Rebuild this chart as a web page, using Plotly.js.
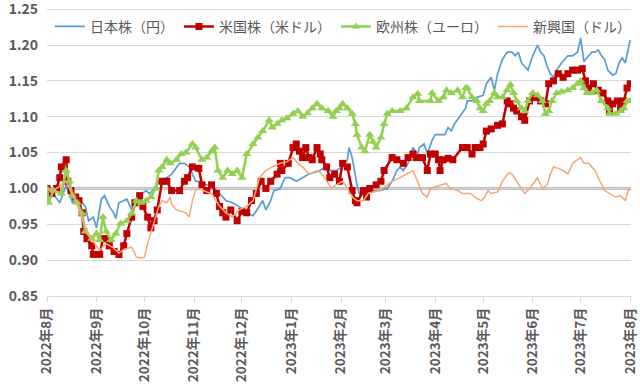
<!DOCTYPE html>
<html><head><meta charset="utf-8">
<script src="https://cdn.plot.ly/plotly-3.0.1.min.js"></script>
<style>html,body{margin:0;padding:0;background:#fff}#chart{width:640px;height:386px}</style>
</head><body><div id="chart"></div>
<script>
const seriesNames = ["日本株（円）", "米国株（米ドル）", "欧州株（ユーロ）", "新興国（ドル）"];

const jpDates = ["2022-08-01","2022-08-04","2022-08-09","2022-08-13","2022-08-17","2022-08-21","2022-08-25","2022-08-27","2022-08-30","2022-09-01","2022-09-04","2022-09-06","2022-09-09","2022-09-12","2022-09-13","2022-09-15","2022-09-20","2022-09-23","2022-09-26","2022-09-28","2022-10-02","2022-10-04","2022-10-08","2022-10-10","2022-10-15","2022-10-18","2022-10-23","2022-10-26","2022-10-29","2022-11-02","2022-11-04","2022-11-09","2022-11-12","2022-11-17","2022-11-21","2022-11-25","2022-11-29","2022-12-04","2022-12-08","2022-12-11","2022-12-14","2022-12-16","2022-12-19","2022-12-21","2022-12-25","2022-12-28","2022-12-31","2023-01-04","2023-01-08","2023-01-12","2023-01-19","2023-01-22","2023-01-25","2023-01-29","2023-02-02","2023-02-05","2023-02-06","2023-02-08","2023-02-11","2023-02-13","2023-02-16","2023-02-21","2023-02-25","2023-03-02","2023-03-05","2023-03-08","2023-03-10","2023-03-12","2023-03-15","2023-03-18","2023-03-21","2023-03-22","2023-03-25","2023-03-27","2023-03-30","2023-04-01","2023-04-04","2023-04-07","2023-04-09","2023-04-11","2023-04-13","2023-04-16","2023-04-20","2023-04-21","2023-04-24","2023-04-27","2023-05-01","2023-05-03","2023-05-06","2023-05-08","2023-05-10","2023-05-13","2023-05-16","2023-05-19","2023-05-21","2023-05-23","2023-05-25","2023-05-27","2023-05-29","2023-06-01","2023-06-04","2023-06-06","2023-06-08","2023-06-10","2023-06-12","2023-06-14","2023-06-16","2023-06-19","2023-06-21","2023-06-23","2023-06-26","2023-06-29","2023-07-01","2023-07-03","2023-07-06","2023-07-08","2023-07-10","2023-07-12","2023-07-14","2023-07-16","2023-07-18","2023-07-21","2023-07-23","2023-07-25","2023-07-27","2023-07-29","2023-07-31","2023-08-01"];
const jpValues = [1.000,0.995,0.980,1.005,0.980,0.985,0.975,0.955,0.960,0.945,0.985,0.990,0.975,0.965,0.958,0.980,0.985,0.970,0.985,0.990,0.997,0.993,1.000,1.010,1.015,1.020,1.035,1.035,1.030,1.010,1.010,1.005,1.005,0.993,0.983,0.980,0.975,0.966,0.962,0.972,0.983,0.970,0.983,0.997,1.000,1.015,1.015,1.010,1.015,1.020,1.025,1.030,1.025,1.025,1.030,1.040,1.057,1.043,1.005,0.988,0.997,0.997,0.997,1.000,1.010,1.025,1.030,1.025,1.035,1.057,1.048,1.057,1.062,1.048,1.067,1.075,1.075,1.075,1.085,1.080,1.090,1.100,1.112,1.122,1.122,1.127,1.130,1.146,1.155,1.137,1.160,1.180,1.190,1.190,1.185,1.190,1.175,1.170,1.165,1.185,1.200,1.190,1.185,1.170,1.160,1.155,1.165,1.175,1.180,1.185,1.185,1.190,1.210,1.177,1.185,1.190,1.190,1.193,1.185,1.180,1.165,1.158,1.160,1.175,1.182,1.175,1.197,1.207];

const usDates = ["2022-08-01","2022-08-04","2022-08-07","2022-08-09","2022-08-10","2022-08-13","2022-08-14","2022-08-16","2022-08-19","2022-08-21","2022-08-23","2022-08-24","2022-08-26","2022-08-29","2022-08-30","2022-09-03","2022-09-05","2022-09-07","2022-09-09","2022-09-12","2022-09-15","2022-09-18","2022-09-20","2022-09-23","2022-09-25","2022-09-28","2022-09-30","2022-10-03","2022-10-05","2022-10-07","2022-10-09","2022-10-12","2022-10-15","2022-10-18","2022-10-23","2022-10-26","2022-10-28","2022-10-31","2022-11-04","2022-11-06","2022-11-09","2022-11-12","2022-11-15","2022-11-17","2022-11-19","2022-11-21","2022-11-24","2022-11-28","2022-12-01","2022-12-04","2022-12-07","2022-12-10","2022-12-13","2022-12-16","2022-12-19","2022-12-23","2022-12-25","2022-12-26","2022-12-30","2023-01-02","2023-01-04","2023-01-06","2023-01-08","2023-01-10","2023-01-12","2023-01-14","2023-01-17","2023-01-19","2023-01-20","2023-01-23","2023-01-25","2023-01-28","2023-01-31","2023-02-02","2023-02-05","2023-02-08","2023-02-10","2023-02-11","2023-02-15","2023-02-17","2023-02-19","2023-02-23","2023-02-26","2023-02-28","2023-03-05","2023-03-08","2023-03-12","2023-03-15","2023-03-18","2023-03-20","2023-03-24","2023-03-27","2023-03-29","2023-04-01","2023-04-03","2023-04-04","2023-04-06","2023-04-09","2023-04-12","2023-04-18","2023-04-21","2023-04-24","2023-04-26","2023-04-29","2023-05-01","2023-05-03","2023-05-06","2023-05-10","2023-05-13","2023-05-16","2023-05-18","2023-05-20","2023-05-22","2023-05-25","2023-05-27","2023-05-30","2023-06-02","2023-06-06","2023-06-09","2023-06-11","2023-06-14","2023-06-17","2023-06-20","2023-06-23","2023-06-26","2023-06-29","2023-07-02","2023-07-04","2023-07-06","2023-07-09","2023-07-12","2023-07-15","2023-07-18","2023-07-19","2023-07-21","2023-07-24","2023-07-26","2023-07-28","2023-07-30","2023-08-01"];
const usValues = [1.000,0.993,1.000,1.015,1.030,1.040,1.010,0.997,0.988,0.983,0.966,0.940,0.930,0.920,0.908,0.908,0.930,0.930,0.920,0.912,0.908,0.920,0.937,0.960,0.980,0.990,0.975,0.960,0.945,0.955,0.970,1.010,1.010,0.997,0.997,1.010,1.015,1.030,1.028,1.005,0.997,1.005,0.993,0.975,0.966,0.960,0.970,0.955,0.968,0.966,0.983,0.993,1.010,1.000,1.010,1.020,1.035,1.025,1.035,1.057,1.062,1.052,1.043,1.057,1.043,1.040,1.057,1.048,1.040,1.030,1.015,1.020,1.010,1.035,1.030,0.997,0.983,0.980,0.997,0.988,1.000,1.005,1.010,1.025,1.043,1.040,1.035,1.043,1.048,1.043,1.043,1.025,1.048,1.048,1.040,1.025,1.040,1.042,1.040,1.057,1.057,1.048,1.057,1.057,1.062,1.080,1.083,1.088,1.090,1.122,1.118,1.112,1.108,1.100,1.095,1.122,1.127,1.122,1.118,1.146,1.150,1.160,1.155,1.160,1.165,1.165,1.167,1.150,1.140,1.146,1.137,1.133,1.122,1.108,1.118,1.122,1.112,1.122,1.140,1.146];

const euDates = ["2022-08-01","2022-08-02","2022-08-05","2022-08-10","2022-08-13","2022-08-15","2022-08-17","2022-08-20","2022-08-23","2022-08-25","2022-08-29","2022-09-01","2022-09-03","2022-09-05","2022-09-07","2022-09-10","2022-09-13","2022-09-16","2022-09-20","2022-09-23","2022-09-26","2022-09-29","2022-10-02","2022-10-05","2022-10-08","2022-10-10","2022-10-12","2022-10-15","2022-10-17","2022-10-21","2022-10-24","2022-10-27","2022-10-31","2022-11-02","2022-11-06","2022-11-09","2022-11-12","2022-11-14","2022-11-16","2022-11-19","2022-11-22","2022-11-25","2022-11-28","2022-12-01","2022-12-04","2022-12-08","2022-12-11","2022-12-14","2022-12-18","2022-12-20","2022-12-23","2022-12-26","2022-12-29","2023-01-02","2023-01-05","2023-01-08","2023-01-11","2023-01-14","2023-01-17","2023-01-20","2023-01-24","2023-01-27","2023-01-29","2023-01-31","2023-02-02","2023-02-05","2023-02-08","2023-02-10","2023-02-11","2023-02-14","2023-02-16","2023-02-19","2023-02-21","2023-02-23","2023-02-26","2023-02-28","2023-03-02","2023-03-05","2023-03-10","2023-03-14","2023-03-18","2023-03-21","2023-03-22","2023-03-29","2023-03-30","2023-04-03","2023-04-06","2023-04-08","2023-04-11","2023-04-15","2023-04-18","2023-04-20","2023-04-21","2023-04-24","2023-04-27","2023-04-29","2023-05-01","2023-05-03","2023-05-05","2023-05-08","2023-05-10","2023-05-13","2023-05-16","2023-05-18","2023-05-20","2023-05-22","2023-05-25","2023-05-27","2023-05-29","2023-06-01","2023-06-04","2023-06-07","2023-06-09","2023-06-11","2023-06-13","2023-06-16","2023-06-19","2023-06-23","2023-06-26","2023-06-29","2023-07-01","2023-07-03","2023-07-05","2023-07-08","2023-07-11","2023-07-14","2023-07-18","2023-07-19","2023-07-23","2023-07-26","2023-07-28","2023-07-30","2023-08-01"];
const euValues = [1.000,0.980,0.997,0.993,1.025,1.010,0.990,0.980,0.965,0.940,0.930,0.937,0.928,0.960,0.940,0.928,0.937,0.951,0.955,0.965,0.983,0.980,0.983,0.988,1.000,1.025,1.030,1.040,1.035,1.040,1.048,1.050,1.062,1.057,1.040,1.043,1.052,1.057,1.025,1.015,1.025,1.020,1.025,1.015,1.048,1.062,1.071,1.080,1.095,1.085,1.090,1.095,1.098,1.104,1.108,1.100,1.105,1.112,1.118,1.112,1.108,1.100,1.108,1.112,1.118,1.112,1.104,1.090,1.075,1.057,1.052,1.075,1.065,1.057,1.071,1.090,1.104,1.108,1.108,1.112,1.127,1.132,1.122,1.122,1.133,1.122,1.127,1.137,1.133,1.137,1.127,1.140,1.140,1.127,1.122,1.112,1.108,1.118,1.122,1.133,1.127,1.127,1.137,1.145,1.133,1.122,1.112,1.108,1.122,1.133,1.130,1.122,1.104,1.108,1.122,1.133,1.135,1.137,1.140,1.146,1.150,1.140,1.133,1.133,1.137,1.122,1.112,1.104,1.104,1.108,1.112,1.122,1.122];

const emDates = ["2022-08-01","2022-08-04","2022-08-07","2022-08-10","2022-08-13","2022-08-16","2022-08-19","2022-08-22","2022-08-25","2022-08-29","2022-09-03","2022-09-07","2022-09-11","2022-09-15","2022-09-18","2022-09-23","2022-09-26","2022-09-29","2022-10-01","2022-10-03","2022-10-05","2022-10-08","2022-10-10","2022-10-12","2022-10-15","2022-10-17","2022-10-18","2022-10-21","2022-10-24","2022-10-27","2022-10-29","2022-10-31","2022-11-02","2022-11-04","2022-11-09","2022-11-12","2022-11-17","2022-11-21","2022-11-25","2022-11-29","2022-12-04","2022-12-08","2022-12-12","2022-12-16","2022-12-20","2022-12-25","2022-12-29","2023-01-02","2023-01-05","2023-01-08","2023-01-12","2023-01-17","2023-01-20","2023-01-23","2023-01-26","2023-01-29","2023-02-02","2023-02-05","2023-02-08","2023-02-11","2023-02-15","2023-02-18","2023-02-25","2023-03-02","2023-03-05","2023-03-10","2023-03-14","2023-03-18","2023-03-20","2023-03-24","2023-03-27","2023-03-29","2023-04-02","2023-04-06","2023-04-08","2023-04-10","2023-04-15","2023-04-18","2023-04-23","2023-04-27","2023-04-30","2023-05-02","2023-05-04","2023-05-06","2023-05-10","2023-05-13","2023-05-17","2023-05-19","2023-05-22","2023-05-25","2023-05-27","2023-05-30","2023-06-02","2023-06-04","2023-06-07","2023-06-10","2023-06-12","2023-06-14","2023-06-17","2023-06-20","2023-06-23","2023-06-26","2023-06-29","2023-07-01","2023-07-03","2023-07-06","2023-07-08","2023-07-10","2023-07-13","2023-07-16","2023-07-19","2023-07-23","2023-07-26","2023-07-29","2023-07-31","2023-08-01"];
const emValues = [1.000,0.995,1.000,1.005,1.010,0.995,0.983,0.965,0.945,0.928,0.914,0.923,0.918,0.910,0.915,0.918,0.904,0.903,0.904,0.923,0.937,0.960,0.975,0.983,0.980,0.988,0.978,0.970,0.968,0.966,0.960,0.983,0.997,1.000,0.995,0.993,0.975,0.966,0.960,0.970,0.975,0.983,1.015,1.025,1.030,1.035,1.037,1.043,1.035,1.030,1.020,1.025,1.020,1.010,1.000,1.005,1.010,1.000,0.988,0.983,0.983,0.993,0.997,1.005,1.010,1.015,1.020,1.025,1.015,0.993,0.988,1.000,1.003,1.005,1.007,1.000,0.997,0.993,0.993,0.986,0.983,0.988,0.997,0.993,0.995,1.010,1.022,1.020,1.010,1.000,0.993,1.000,1.010,1.015,1.000,1.005,1.020,1.030,1.028,1.025,1.020,1.035,1.040,1.043,1.035,1.035,1.030,1.025,1.010,0.997,0.993,0.988,0.990,0.983,1.000,0.997];

const tickDates = ["2022-08-01","2022-09-01","2022-10-01","2022-11-01","2022-12-01","2023-01-01","2023-02-01","2023-03-01","2023-04-01","2023-05-01","2023-06-01","2023-07-01","2023-08-01"];
const tickLabels = ["2022年8月","2022年9月","2022年10月","2022年11月","2022年12月","2023年1月","2023年2月","2023年3月","2023年4月","2023年5月","2023年6月","2023年7月","2023年8月"];
const yTicks = [0.85, 0.90, 0.95, 1.00, 1.05, 1.10, 1.15, 1.20, 1.25];
const baseLevel = 1.00;

const FONT = '"Noto Sans CJK JP", "Noto Sans", sans-serif';
const traces = [
  {x: jpDates, y: jpValues, name: seriesNames[0], type: 'scatter', mode: 'lines',
   line: {color: '#5B9BD5', width: 1.7}},
  {x: usDates, y: usValues, name: seriesNames[1], type: 'scatter', mode: 'lines+markers',
   line: {color: '#C00000', width: 2.5}, marker: {symbol: 'square', size: 7, color: '#C00000'}},
  {x: euDates, y: euValues, name: seriesNames[2], type: 'scatter', mode: 'lines+markers',
   line: {color: '#92D050', width: 2.5}, marker: {symbol: 'triangle-up', size: 8, color: '#92D050'}},
  {x: emDates, y: emValues, name: seriesNames[3], type: 'scatter', mode: 'lines',
   line: {color: '#F4A878', width: 1.5}}
];

const layout = {
  width: 640, height: 386,
  margin: {l: 47, r: 9, t: 2, b: 90},
  paper_bgcolor: '#fff', plot_bgcolor: '#fff',
  font: {family: FONT, color: '#595959'},
  showlegend: true,
  legend: {orientation: 'h', x: 0.005, y: 0.97, xanchor: 'left', yanchor: 'top',
           font: {size: 14, color: '#595959', family: FONT}, bgcolor: 'rgba(0,0,0,0)'},
  xaxis: {type: 'date', range: ['2022-08-01', '2023-08-01 12:00'],
          tickmode: 'array', tickvals: tickDates, ticktext: tickLabels, tickangle: -90,
          ticks: 'outside', ticklen: 5, tickcolor: '#D9D9D9',
          showgrid: false, showline: true, linecolor: '#D9D9D9', linewidth: 1,
          tickfont: {size: 13.5, color: '#595959', family: FONT, weight: 'bold'}, zeroline: false},
  yaxis: {range: [0.85, 1.26], tickmode: 'array', tickvals: yTicks, tickformat: '.2f',
          showgrid: true, gridcolor: '#D9D9D9', gridwidth: 1, zeroline: false, showline: false,
          ticks: '', ticklabelstandoff: 8, ticklabeloverflow: 'allow',
          tickfont: {size: 14, color: '#595959', family: FONT, weight: 'bold'}},
  shapes: [{type: 'line', xref: 'paper', x0: 0, x1: 1, yref: 'y', y0: baseLevel, y1: baseLevel,
            line: {color: '#A6A6A6', width: 2.5}, layer: 'below'}]
};
Plotly.newPlot('chart', traces, layout, {displayModeBar: false, staticPlot: true});
</script></body></html>
